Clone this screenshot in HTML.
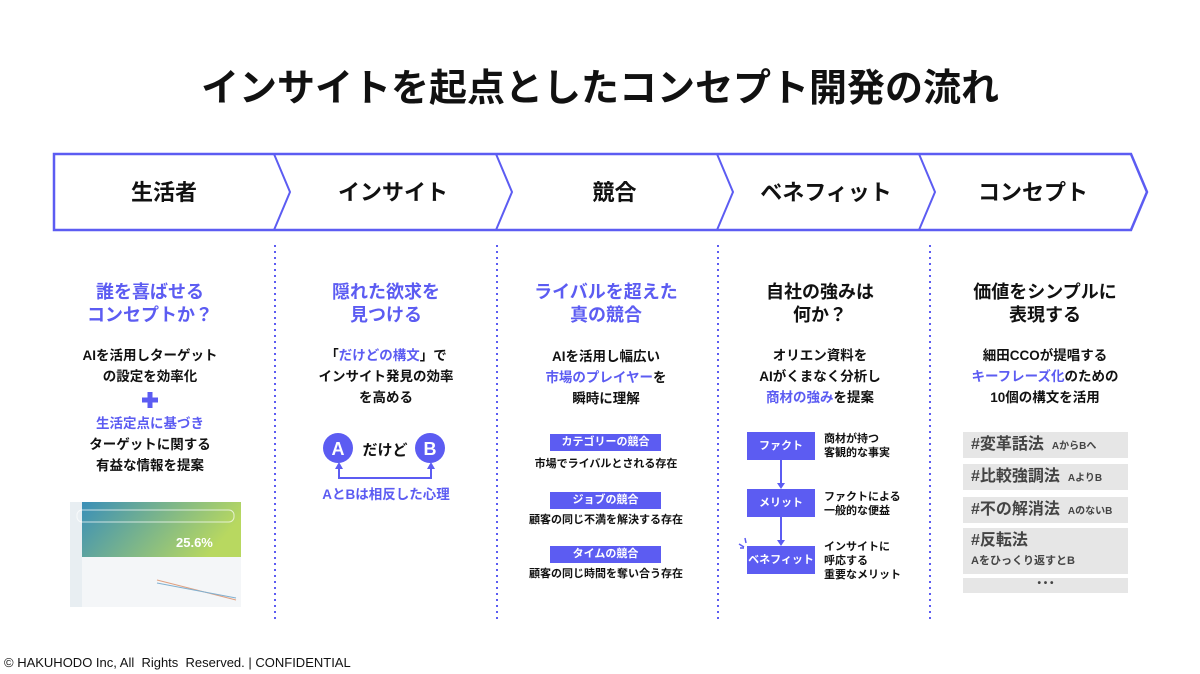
<!DOCTYPE html>
<html><head><meta charset="utf-8"><style>
*{margin:0;padding:0;box-sizing:border-box}
body{width:1200px;height:674px;background:#fff;font-family:"Liberation Sans","Noto Sans CJK JP",sans-serif;position:relative;overflow:hidden;color:#111}
.a{position:absolute;text-align:center;white-space:nowrap}
.p{color:#5c5cf2}
.h{font-size:18px;font-weight:bold;line-height:23px}
.b{font-size:13.5px;font-weight:bold;line-height:21px}
.tag{position:absolute;background:#5c5cf2;color:#fff;font-size:11px;font-weight:bold;text-align:center;line-height:17px}
.sm{font-size:11px;font-weight:bold;line-height:14px}
.bx{position:absolute;background:#5c5cf2;color:#fff;font-size:11px;font-weight:bold;text-align:center;width:68px;height:28px;line-height:28px;left:747px}
.g{position:absolute;left:963px;width:165px;background:#e6e6e6;color:#444;font-weight:bold;font-size:16px;padding-left:8px}
.g small{font-size:10px;margin-left:8px}
.band{position:absolute;top:178px;font-size:22px;font-weight:bold;text-align:center;line-height:30px}
</style></head><body>
<div class="a" style="left:0;width:1200px;top:65px;font-size:38px;font-weight:bold;line-height:48px">インサイトを起点としたコンセプト開発の流れ</div>
<svg width="1200" height="674" style="position:absolute;left:0;top:0">
<path d="M54 154 H1131 L1147 192 L1131 230 H54 Z" fill="#fff" stroke="#5c5cf2" stroke-width="2.5"/>
<g fill="none" stroke="#5c5cf2" stroke-width="2">
<path d="M274 154 L290 192 L274 230"/><path d="M496 154 L512 192 L496 230"/><path d="M717 154 L733 192 L717 230"/><path d="M919 154 L935 192 L919 230"/>
</g>
<g stroke="#5c5cf2" stroke-width="2" stroke-dasharray="2 4">
<line x1="275" y1="245" x2="275" y2="620"/><line x1="497" y1="245" x2="497" y2="620"/><line x1="718" y1="245" x2="718" y2="620"/><line x1="930" y1="245" x2="930" y2="620"/>
</g>
<circle cx="338" cy="448" r="15" fill="#5c5cf2"/><circle cx="430" cy="448" r="15" fill="#5c5cf2"/>
<text x="338" y="455" font-size="18" font-weight="bold" fill="#fff" text-anchor="middle" font-family="Liberation Sans">A</text>
<text x="430" y="455" font-size="18" font-weight="bold" fill="#fff" text-anchor="middle" font-family="Liberation Sans">B</text>
<path d="M339 468 V478 H431 V468" fill="none" stroke="#5c5cf2" stroke-width="2"/>
<path d="M335 469 L339 462 L343 469Z M427 469 L431 462 L435 469Z" fill="#5c5cf2"/>
<path d="M142 400 h16 M150 392 v16" stroke="#5c5cf2" stroke-width="5"/>
<path d="M781 460 V484 M781 517 V541" stroke="#5c5cf2" stroke-width="2"/>
<path d="M777 483 L781 489 L785 483Z M777 540 L781 546 L785 540Z" fill="#5c5cf2"/>
<path d="M739 544 l5 3 M745 538 l1 5 M740 548 l4 0" stroke="#5c5cf2" stroke-width="1.5"/>
<defs><linearGradient id="gr" x1="0" y1="0" x2="1" y2="0.3"><stop offset="0" stop-color="#3a8fb8"/><stop offset="1" stop-color="#b8d860"/></linearGradient></defs>
<rect x="70" y="502" width="171" height="105" fill="#f4f6f8"/>
<rect x="82" y="502" width="159" height="55" fill="url(#gr)"/>
<rect x="70" y="502" width="12" height="105" fill="#e8eef2"/>
<rect x="77" y="510" width="157" height="12" rx="5" fill="none" stroke="#fff" stroke-opacity=".7"/>
<text x="176" y="547" font-size="13" font-weight="bold" fill="#fff" font-family="Liberation Sans">25.6%</text>
<path d="M157 580 L236 600" stroke="#e0a080" stroke-width="1"/><path d="M157 583 L236 598" stroke="#80b0d0" stroke-width="1"/>
</svg>
<div class="band" style="left:54px;width:220px">生活者</div>
<div class="band" style="left:290px;width:206px">インサイト</div>
<div class="band" style="left:512px;width:205px">競合</div>
<div class="band" style="left:733px;width:186px">ベネフィット</div>
<div class="band" style="left:935px;width:196px">コンセプト</div>

<div class="a h p" style="left:50px;width:200px;top:281px">誰を喜ばせる<br>コンセプトか？</div>
<div class="a b" style="left:50px;width:200px;top:345px">AIを活用しターゲット<br>の設定を効率化</div>
<div class="a b" style="left:50px;width:200px;top:413px"><span class="p">生活定点に基づき</span><br>ターゲットに関する<br>有益な情報を提案</div>

<div class="a h p" style="left:286px;width:200px;top:281px">隠れた欲求を<br>見つける</div>
<div class="a b" style="left:286px;width:200px;top:345px">「<span class="p">だけどの構文</span>」で<br>インサイト発見の効率<br>を高める</div>
<div class="a" style="left:355px;width:60px;top:439px;font-size:15px;font-weight:bold">だけど</div>
<div class="a b p" style="left:286px;width:200px;top:484px">AとBは相反した心理</div>

<div class="a h p" style="left:506px;width:200px;top:281px">ライバルを超えた<br>真の競合</div>
<div class="a b" style="left:506px;width:200px;top:346px">AIを活用し幅広い<br><span class="p">市場のプレイヤー</span>を<br>瞬時に理解</div>
<div class="tag" style="left:550px;top:434px;width:111px">カテゴリーの競合</div>
<div class="a sm" style="left:506px;width:200px;top:457px">市場でライバルとされる存在</div>
<div class="tag" style="left:550px;top:492px;width:111px">ジョブの競合</div>
<div class="a sm" style="left:506px;width:200px;top:513px">顧客の同じ不満を解決する存在</div>
<div class="tag" style="left:550px;top:546px;width:111px">タイムの競合</div>
<div class="a sm" style="left:506px;width:200px;top:567px">顧客の同じ時間を奪い合う存在</div>

<div class="a h" style="left:720px;width:200px;top:281px">自社の強みは<br>何か？</div>
<div class="a b" style="left:720px;width:200px;top:345px">オリエン資料を<br>AIがくまなく分析し<br><span class="p">商材の強み</span>を提案</div>
<div class="bx" style="top:432px">ファクト</div>
<div class="bx" style="top:489px">メリット</div>
<div class="bx" style="top:546px">ベネフィット</div>
<div class="a sm" style="left:824px;top:432px;text-align:left">商材が持つ<br>客観的な事実</div>
<div class="a sm" style="left:824px;top:490px;text-align:left">ファクトによる<br>一般的な便益</div>
<div class="a sm" style="left:824px;top:540px;text-align:left">インサイトに<br>呼応する<br>重要なメリット</div>

<div class="a h" style="left:945px;width:200px;top:281px">価値をシンプルに<br>表現する</div>
<div class="a b" style="left:945px;width:200px;top:345px">細田CCOが提唱する<br><span class="p">キーフレーズ化</span>のための<br>10個の構文を活用</div>
<div class="g" style="top:432px;height:26px;line-height:26px">#変革話法<small>AからBへ</small></div>
<div class="g" style="top:464px;height:26px;line-height:26px">#比較強調法<small>AよりB</small></div>
<div class="g" style="top:497px;height:26px;line-height:26px">#不の解消法<small>AのないB</small></div>
<div class="g" style="top:528px;height:46px;line-height:19px;padding-top:3px">#反転法<br><small style="margin:0;font-size:11px">Aをひっくり返すとB</small></div>
<div class="g" style="top:578px;height:15px;line-height:12px;text-align:center;padding:0;font-size:10px">• • •</div>

<div class="a" style="left:4px;top:655px;font-size:13px;text-align:left">© HAKUHODO Inc, All&nbsp; Rights&nbsp; Reserved. | CONFIDENTIAL</div>
</body></html>
